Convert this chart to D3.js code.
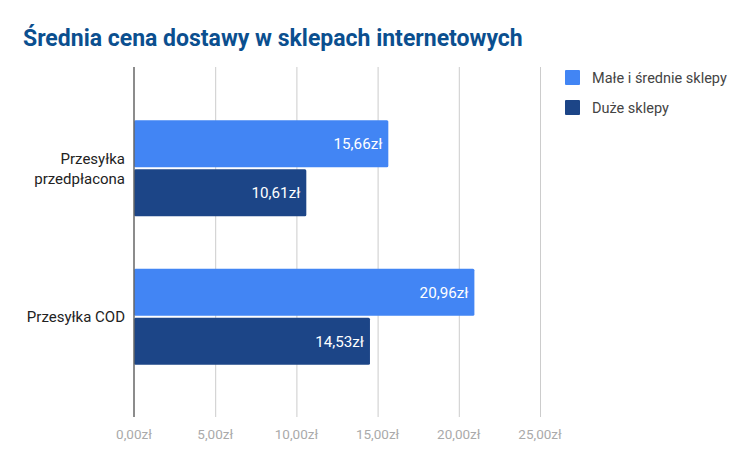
<!DOCTYPE html>
<html><head><meta charset="utf-8">
<script src="https://cdn.jsdelivr.net/npm/d3@7"></script>
<style>body{margin:0;background:#fff;} text{font-family:Roboto,sans-serif;}</style>
</head><body>
<svg id="c" width="751" height="466"></svg>
<script>
const categories = [["Przesyłka","przedpłacona"],["Przesyłka COD"]];
const categoryKeys = ["Przesyłka przedpłacona","Przesyłka COD"];
const seriesNames = ["Małe i średnie sklepy","Duże sklepy"];
const smallShops = [15.66, 20.96];
const bigShops = [10.61, 14.53];
const tickValues = [0,5,10,15,20,25];
const colors = ["#4285f4","#1c4587"];

(function(){
const fmt = v => v.toFixed(2).replace(".", ",") + "zł";
const svg = d3.select("#c");
svg.append("rect").attr("width",751).attr("height",466).attr("fill","#fff");

const x = d3.scaleLinear().domain([0,25]).range([134,540]);
const y = d3.scaleBand().domain(categoryKeys).range([94,391]).paddingInner(0.354).paddingOuter(0.177);
const yi = d3.scaleBand().domain(seriesNames).range([0,y.bandwidth()]).paddingInner(0.04);

const plotTop = 67, plotBottom = 417;
svg.append("g").selectAll("line").data(tickValues.slice(1)).join("line")
  .attr("x1",d=>x(d)+0.5).attr("x2",d=>x(d)+0.5).attr("y1",plotTop).attr("y2",plotBottom)
  .attr("stroke","#cccccc").attr("stroke-width",1);

const series = [smallShops, bigShops];
series.forEach((vals,si)=>{
  const g = svg.append("g");
  g.selectAll("rect").data(vals).join("rect")
    .attr("x",x(0)).attr("y",(d,i)=>y(categoryKeys[i])+yi(seriesNames[si]))
    .attr("width",d=>x(d)-x(0)).attr("height",yi.bandwidth())
    .attr("rx",1.5).attr("fill",colors[si]);
  g.selectAll("text").data(vals).join("text")
    .attr("x",d=>x(d)-6).attr("y",(d,i)=>y(categoryKeys[i])+yi(seriesNames[si])+yi.bandwidth()/2)
    .attr("dy","0.35em").attr("text-anchor","end").attr("fill","#fff")
    .attr("font-size",15.2).text(d=>fmt(d));
});

svg.append("line").attr("x1",x(0)).attr("x2",x(0)).attr("y1",plotTop).attr("y2",plotBottom)
  .attr("stroke","#666").attr("stroke-width",1.5);

svg.append("g").selectAll("text").data(tickValues).join("text")
  .attr("x",d=>x(d)).attr("y",438.5).attr("text-anchor","middle")
  .attr("fill","#aaaaaa").attr("font-size",13.5).text(d=>fmt(d));

categoryKeys.forEach((k,i)=>{
  const lines = categories[i];
  const cy = y(k)+y.bandwidth()/2;
  const lh = 20;
  lines.forEach((ln,j)=>{
    svg.append("text").attr("x",125).attr("y",cy+(j-(lines.length-1)/2)*lh)
      .attr("dy","0.35em").attr("text-anchor","end").attr("fill","#222")
      .attr("font-size",15).text(ln);
  });
});

svg.append("text").attr("x",23).attr("y",45.5).attr("fill","#0b4f8f")
  .attr("font-size",23).attr("font-weight","bold").text("Średnia cena dostawy w sklepach internetowych");

seriesNames.forEach((s,i)=>{
  svg.append("rect").attr("x",565).attr("y",70+i*30).attr("width",15).attr("height",15)
    .attr("rx",1).attr("fill",colors[i]);
  svg.append("text").attr("x",592).attr("y",77.5+i*30).attr("dy","0.35em")
    .attr("fill","#444").attr("font-size",14.5).text(s);
});
})();
</script>
</body></html>
